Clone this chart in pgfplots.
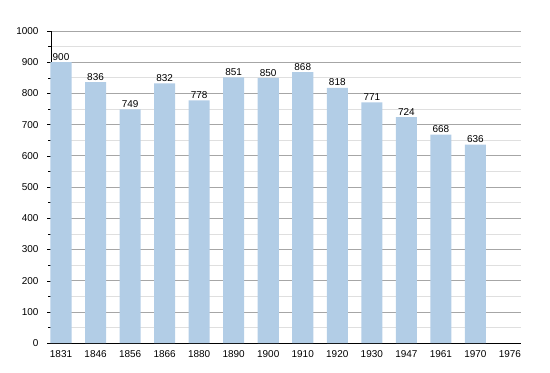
\documentclass[border=0pt]{standalone}
\usepackage{pgfplots}
\pgfplotsset{compat=1.18}
\usepackage{fontspec}
\setmainfont{Liberation Sans}
\definecolor{barblue}{RGB}{178,205,230}
\begin{document}
\begin{tikzpicture}[x=1bp,y=1bp]
\begin{axis}[
  scale only axis, width=470bp, height=312bp,
  xmin=-0.29, xmax=13.32, ymin=0, ymax=1000,
  xtick={0,...,13},
  xticklabels={1831,1846,1856,1866,1880,1890,1900,1910,1920,1930,1947,1961,1970,1976},
  ytick={0,100,...,1000},
  minor ytick={50,150,...,950},
  axis x line*=bottom, axis y line*=left,
  axis line style={black, line width=0.9pt, -},
  xtick style={draw=none},
  ytick style={black}, tick align=outside,
  major tick length=4bp, minor tick length=3bp,
  ymajorgrids, yminorgrids,
  major grid style={gray!70, line width=0.6pt},
  minor grid style={gray!25, line width=0.6pt},
  tick label style={font=\fontsize{10}{11}\selectfont},
  yticklabel style={xshift=-5bp},
  /pgf/number format/assume math mode=true,
  /pgf/number format/1000 sep={},
  ybar, bar width=0.61, bar shift=0,
  nodes near coords, every node near coord/.style={font=\fontsize{10}{11}\selectfont, black, inner sep=1.5bp},
  clip=false,
]
\addplot[fill=barblue, draw=none] coordinates {
(0,900) (1,836) (2,749) (3,832) (4,778) (5,851) (6,850) (7,868) (8,818) (9,771) (10,724) (11,668) (12,636)};
\end{axis}
\path (current axis.south west) ++(-51bp,-30bp) rectangle ++(550bp,373bp);
\end{tikzpicture}
\end{document}
